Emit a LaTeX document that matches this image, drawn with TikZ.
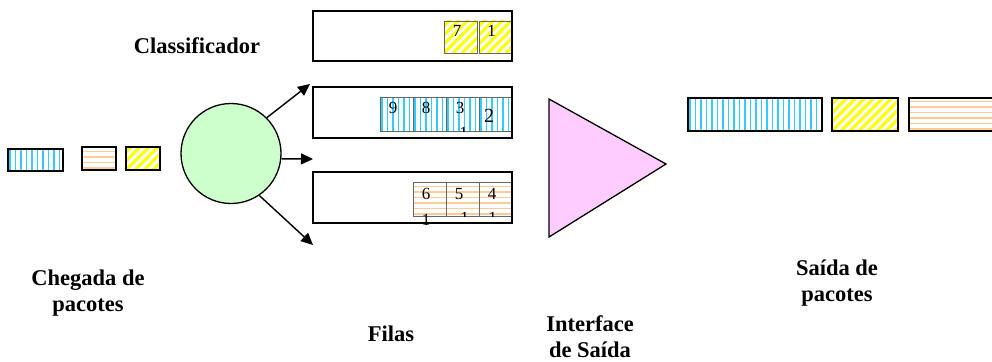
\documentclass[tikz,border=0pt]{standalone}
\usepackage{fontspec}
\setmainfont{Liberation Serif}
\usepackage{xcolor}
\usepackage{tikz}
\usetikzlibrary{arrows.meta}

\definecolor{stripeBlue}{RGB}{51,204,255}
\definecolor{stripeOrange}{RGB}{255,204,153}
\definecolor{stripeYellow}{RGB}{255,255,0}
\definecolor{clsGreen}{RGB}{204,255,204}
\definecolor{ifPink}{RGB}{255,204,255}

\begin{document}
\begin{tikzpicture}[x=1pt, y=-1pt,
    pkt/.style = { draw, black, line width=1.8pt, inner sep=0pt, outer sep=0pt },
    cell/.style = { draw, black!60, line width=0.8pt, inner sep=0pt, outer sep=0pt, minimum width=33pt },
    queue/.style = { draw, black, line width=1.8pt, inner sep=0pt, minimum width=199pt, minimum height=50pt },
    vstripes/.style = { path picture = {
        \foreach \k in {0,...,25}
            \draw[stripeBlue, line width=1.3pt] ([xshift=\k*5.5pt+2pt]path picture bounding box.south west) -- ([xshift=\k*5.5pt+2pt]path picture bounding box.north west);
        } },
    hstripes/.style = { path picture = {
        \foreach \k in {0,...,6}
            \draw[stripeOrange, line width=1.3pt] ([yshift=\k*5.5pt+2pt]path picture bounding box.south west) -- ([yshift=\k*5.5pt+2pt]path picture bounding box.south east);
        } },
    dstripes/.style = { path picture = {
        \foreach \k in {-6,...,12}
            \draw[stripeYellow, line width=3pt] ([xshift=\k*9pt]path picture bounding box.south west) -- ([xshift=\k*9pt+50pt, yshift=50pt]path picture bounding box.south west);
        } },
    cls/.style = { circle, draw, line width=1.3pt, fill=clsGreen, minimum size=100pt, inner sep=0pt },
    iface/.style = { draw, line width=1.3pt, fill=ifPink, line join=miter },
    arr/.style = { line width=1.4pt, -{Triangle[length=12pt, width=11pt]} },
    num/.style = { font=\fontsize{17}{17}\selectfont, inner sep=0pt },
    lbl/.style = { font=\fontsize{22.5}{26}\selectfont\bfseries, align=center },
    ]
    \useasboundingbox (0,0) rectangle (992,361);

    % chegada
    \node[pkt, vstripes, minimum width=55pt, minimum height=22pt] (inBlue) at (35.5,160) {};
    \node[pkt, hstripes, minimum width=34pt, minimum height=23pt] (inOrange) at (99,158.5) {};
    \node[pkt, dstripes, minimum width=34pt, minimum height=23pt] (inYellow) at (143,158.5) {};

    % classificador
    \node[cls] (clsf) at (231,153.5) {};
    \coordinate (toTop) at (310,84);
    \coordinate (toMid) at (313,159);
    \coordinate (toLow) at (313,245);
    \draw[arr] (clsf.45) -- (toTop);
    \draw[arr] (clsf.-6) -- (toMid);
    \draw[arr] (clsf.-56) -- (toLow);

    % filas
    \node[cell, dstripes, minimum height=32pt] (c7) at (460.5,37) {};
    \node[cell, dstripes, minimum height=32pt] (c1) at (495.5,37) {};
    \node[num] at ([xshift=13pt, yshift=-10pt]c7.north west) {7};
    \node[num] at ([xshift=12.5pt, yshift=-10pt]c1.north west) {1};

    \node[cell, vstripes, minimum height=34pt] (c9) at (396.5,114) {};
    \node[cell, vstripes, minimum height=34pt] (c8) at (429.5,114) {};
    \node[cell, vstripes, minimum height=34pt] (c3) at (462.5,114) {};
    \node[cell, vstripes, minimum height=34pt] (c2) at (495.5,114) {};
    \node[num] at ([xshift=13pt, yshift=-11pt]c9.north west) {9};
    \node[num] at ([xshift=13pt, yshift=-11pt]c8.north west) {8};
    \node[num] at ([xshift=14pt, yshift=-11pt]c3.north west) {3};
    \node[num, font=\fontsize{20}{20}\selectfont] at ([xshift=10pt, yshift=-19pt]c2.north west) {2};
    \begin{scope}
        \clip (c3.south west) rectangle (c3.north east);
        \node[num] at ([xshift=17.5pt, yshift=-1.75pt]c3.south west) {1};
    \end{scope}

    \node[cell, hstripes, minimum height=34pt] (c6) at (429.5,199) {};
    \node[cell, hstripes, minimum height=34pt] (c5) at (462.5,199) {};
    \node[cell, hstripes, minimum height=34pt] (c4) at (495.5,199) {};
    \node[num] at ([xshift=13pt, yshift=-12pt]c6.north west) {6};
    \node[num] at ([xshift=13pt, yshift=-12pt]c5.north west) {5};
    \node[num] at ([xshift=13pt, yshift=-12pt]c4.north west) {4};
    \begin{scope}
        \clip (c5.south west) rectangle (c4.north east);
        \node[num] at ([xshift=18.5pt, yshift=-2pt]c5.south west) {1};
        \node[num] at ([xshift=13.5pt, yshift=-2pt]c4.south west) {1};
    \end{scope}

    \node[queue] (q1) at (412.5,36) {};
    \node[queue, minimum height=51pt] (q2) at (412.5,112.5) {};
    \node[queue, minimum height=51pt] (q3) at (412.5,197.5) {};
    \node[num] at ([xshift=13pt, yshift=-4pt]c6.south west) {1};

    % interface
    \draw[iface] (549,99) coordinate (ifTop) -- (666,164) coordinate (ifTip) -- (549,237) coordinate (ifLow) -- cycle;

    % saida
    \node[pkt, vstripes, minimum width=134pt, minimum height=33pt] (outBlue) at (755,114.5) {};
    \node[pkt, dstripes, minimum width=66pt, minimum height=33pt] (outYellow) at (865,114.5) {};
    \node[pkt, hstripes, minimum width=92pt, minimum height=33pt] (outOrange) at (955,114.5) {};

    % textos
    \node[lbl] (lblCls) at (197,46) {Classificador};
    \node[lbl] (lblIn) at (88,293) {Chegada de\\pacotes};
    \node[lbl] (lblFilas) at (391,334) {Filas};
    \node[lbl] (lblIface) at (590,337) {Interface\\de Saída};
    \node[lbl] (lblOut) at (837,283) {Saída de\\pacotes};
\end{tikzpicture}
\end{document}
